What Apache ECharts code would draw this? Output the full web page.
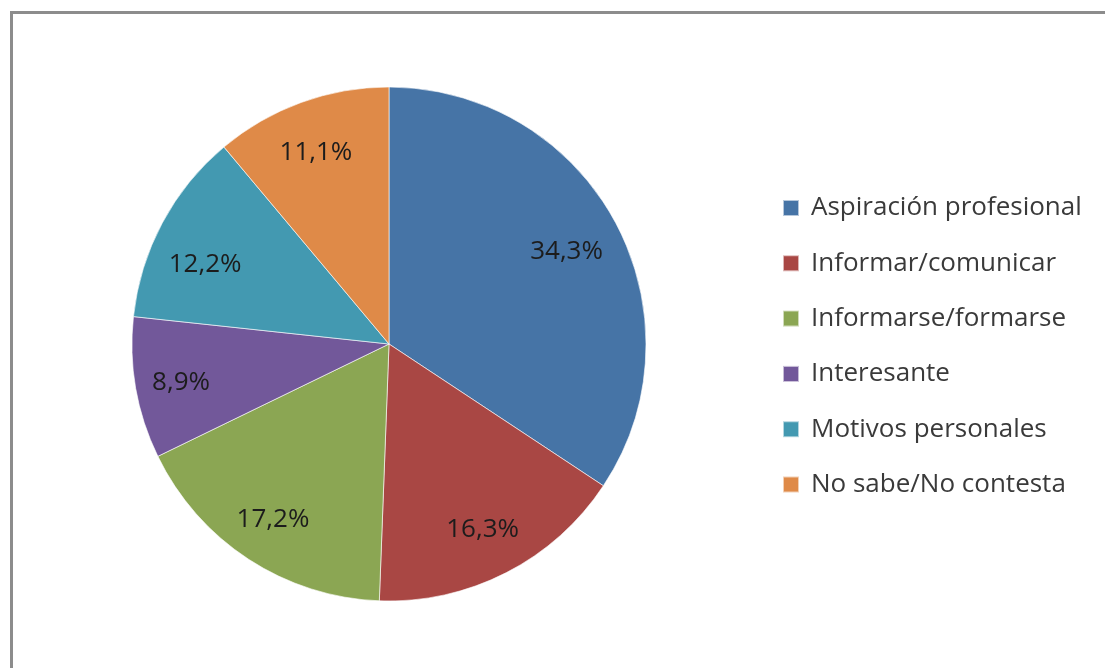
<!DOCTYPE html>
<html>
<head>
<meta charset="utf-8">
<script src="https://cdn.jsdelivr.net/npm/echarts@6/dist/echarts.min.js"></script>
<style>
html,body{margin:0;padding:0;background:#fff;}
#chart{width:1105px;height:668px;}
</style>
</head>
<body>
<div id="chart"></div>
<script>
const categories = ['Aspiración profesional','Informar/comunicar','Informarse/formarse','Interesante','Motivos personales','No sabe/No contesta'];
const values = [34.3, 16.3, 17.2, 8.9, 12.2, 11.1];
const colors = ['#4674A6','#A94744','#8BA653','#72589A','#4399B1','#DF8A48'];

const chart = echarts.init(document.getElementById('chart'));
const data = categories.map((c, i) => ({ name: c, value: values[i] }));
const fmt = p => p.value.toFixed(1).replace('.', ',') + '%';
// small layout nudges so the labels sit where the original placed them
const labelOffsets = [[-3, 5], [0, 3], [-4, 4], [-6, 3], [-3, 17], [-3, 1]];
const labelData = data.map((d, i) => ({ ...d, label: { offset: labelOffsets[i] } }));

chart.setOption({
  animation: false,
  color: colors,
  graphic: [{
    type: 'rect',
    shape: { x: 11.5, y: 12.5, width: 1200, height: 800 },
    style: { fill: 'none', stroke: '#8c8c8c', lineWidth: 3 },
    z: 10
  }],
  legend: {
    orient: 'vertical',
    left: 782,
    top: 191,
    padding: 0,
    icon: 'rect',
    itemWidth: 16,
    itemHeight: 16,
    itemGap: 21.3,
    data: categories,
    textStyle: {
      fontFamily: 'Open Sans',
      fontSize: 26,
      lineHeight: 34,
      color: '#3a3a3a',
      padding: [0, 0, 0, 7]
    }
  },
  series: [{
    type: 'pie',
    center: [389, 344],
    radius: [0, 257],
    startAngle: 90,
    clockwise: true,
    data: data,
    label: { show: false },
    labelLine: { show: false },
    itemStyle: { borderColor: 'rgba(255,255,255,0.6)', borderWidth: 1 },
    emphasis: { disabled: true }
  }, {
    type: 'pie',
    center: [389, 344],
    radius: [145, 259],
    startAngle: 90,
    clockwise: true,
    silent: true,
    data: labelData,
    itemStyle: { color: 'rgba(0,0,0,0)', borderWidth: 0 },
    label: {
      show: true,
      position: 'inside',
      formatter: fmt,
      fontFamily: 'Open Sans',
      fontSize: 26,
      color: '#1c1c1c'
    },
    labelLine: { show: false },
    emphasis: { disabled: true }
  }]
});
</script>
</body>
</html>
